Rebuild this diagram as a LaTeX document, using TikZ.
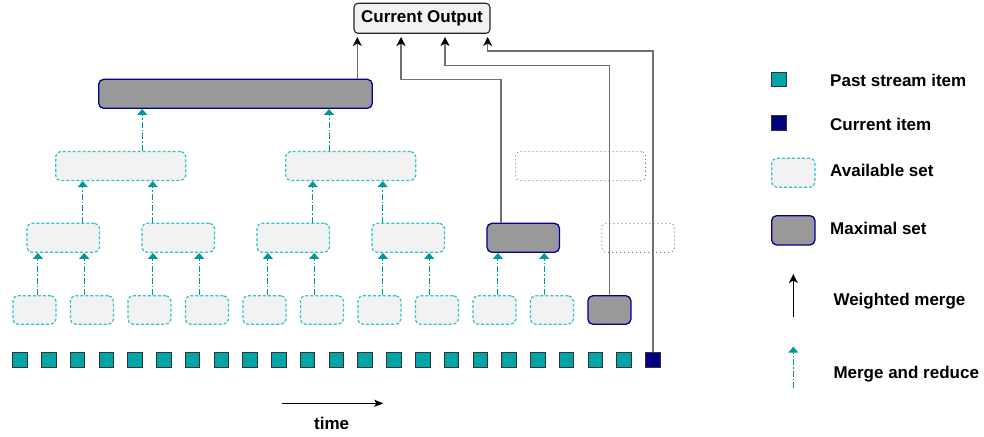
\documentclass[tikz,border=0pt]{standalone}
\usepackage{fontspec}
\setmainfont{Liberation Sans}
\usetikzlibrary{arrows.meta,calc}
\definecolor{tealfill}{HTML}{00A6A6}
\definecolor{tealline}{HTML}{009999}
\definecolor{availborder}{HTML}{33C4C4}
\definecolor{availfill}{HTML}{F2F2F2}
\definecolor{maxfill}{HTML}{999999}
\definecolor{maxborder}{HTML}{000099}
\definecolor{navyitem}{HTML}{000080}
\definecolor{wline}{HTML}{707070}
\definecolor{dotgray}{HTML}{808080}
\begin{document}
\begin{tikzpicture}[x=1pt,y=-1pt,
  every node/.style={font=\fontsize{17}{20}\selectfont\bfseries},
  availbox/.style={draw=availborder, fill=availfill, line width=1.2pt,
    dash pattern=on 3pt off 2pt, rounded corners=5pt, inner sep=0pt},
  maxbox/.style={draw=maxborder, fill=maxfill, line width=1.3pt,
    rounded corners=5pt, inner sep=0pt},
  emptybox/.style={draw=dotgray, line width=1pt, dash pattern=on 1pt off 3pt,
    rounded corners=4pt, inner sep=0pt},
  lvA/.style={minimum width=43pt, minimum height=28.5pt},
  lvB/.style={minimum width=72.5pt, minimum height=29pt},
  lvC/.style={minimum width=130pt, minimum height=29pt},
  itembox/.style={draw=black!80, line width=1pt, minimum size=14.5pt, inner sep=0pt},
  pastitem/.style={itembox, fill=tealfill},
  curitem/.style={itembox, fill=navyitem},
  mr/.style={draw=tealline, line width=1pt, dash pattern=on 6pt off 2pt on 1.5pt off 2pt,
    -{Triangle[length=6pt,width=10pt,fill=tealline,color=tealline]}},
  wm/.style={draw=wline, line width=1.2pt,
    -{Stealth[length=9pt,width=9pt,inset=2.5pt,color=black]}},
  legtext/.style={anchor=base west, inner sep=0pt}
]
\useasboundingbox (0,0) rectangle (984,436);

% stream items
\foreach \i in {0,...,21} {
  \node[pastitem] (s\i) at ({20+28.77*\i},360) {};
}
\node[curitem] (s22) at ({20+28.77*22},360) {};

% level 1
\foreach \i in {0,...,9} {
  \node[availbox, lvA] (a\i) at ({34.4+57.5*\i},310) {};
}
\node[maxbox, lvA] (a10) at ({34.4+57.5*10},310) {};

% level 2
\foreach \j in {0,...,3} {
  \node[availbox, lvB] (b\j) at ({63.2+115*\j},237.8) {};
}
\node[maxbox, lvB] (b4) at ({63.2+115*4},237.8) {};
\node[emptybox, lvB] (b5) at ({63.2+115*5},237.8) {};

% level 3
\node[availbox, lvC] (c0) at (120.7,166) {};
\node[availbox, lvC] (c1) at (350.7,166) {};
\node[emptybox, lvC] (c2) at (580.7,166) {};

% level 4
\node[maxbox, minimum width=273.6pt, minimum height=29pt] (d0) at (235.5,93.8) {};

% current output
\node[draw=black!85, fill=availfill, line width=1.1pt, rounded corners=4pt,
      minimum width=136pt, minimum height=30pt, inner sep=0pt] (out) at (422,18.3) {Current Output};

% merge and reduce arrows level 1 -> 2
\foreach \j in {0,...,4} {
  \pgfmathtruncatemacro{\ca}{2*\j}
  \pgfmathtruncatemacro{\cb}{2*\j+1}
  \path (b\j.south) ++(-25.3,0) coordinate (t1);
  \path (b\j.south) ++(21,0) coordinate (t2);
  \draw[mr] (t1 |- a\ca.north) -- (t1);
  \draw[mr] (t2 |- a\cb.north) -- (t2);
}
% level 2 -> 3
\foreach \k in {0,1} {
  \pgfmathtruncatemacro{\ca}{2*\k}
  \pgfmathtruncatemacro{\cb}{2*\k+1}
  \path (c\k.south) ++(-38,0) coordinate (t1);
  \path (c\k.south) ++(32,0) coordinate (t2);
  \draw[mr] (t1 |- b\ca.north) -- (t1);
  \draw[mr] (t2 |- b\cb.north) -- (t2);
}
% level 3 -> 4
\path (d0.south) ++(-93.3,0) coordinate (t1);
\path (d0.south) ++(93.5,0) coordinate (t2);
\draw[mr] (t1 |- c0.north) -- (t1);
\draw[mr] (t2 |- c1.north) -- (t2);

% weighted merge lines to output
\coordinate (o1) at (357.3,37);
\coordinate (o2) at (401,37);
\coordinate (o3) at (445,37);
\coordinate (o4) at (487.7,37);
\draw[wm] (o1 |- d0.north) -- (o1);
\draw[wm] ($(b4.north west)+(14.7,0)$) |- ($(o2)+(0,42.7)$) -- (o2);
\draw[wm] (a10.north) |- ($(o3)+(0,28.7)$) -- (o3);
\draw[wm] (s22.north) |- ($(o4)+(0,14)$) -- (o4);

% time arrow
\coordinate (tl) at (281.7,403.3);
\coordinate (tr) at (383.3,403.3);
\draw[line width=1.1pt, -{Stealth[length=9pt,width=7pt,inset=2pt]}] (tl) -- (tr);
\node[anchor=base, inner sep=0pt] (timelbl) at (331.7,429.3) {time};

% legend
\node[pastitem] (lg1) at (779,79.7) {};
\node[legtext] (lt1) at (830,86.7) {Past stream item};
\node[curitem] (lg2) at (779,123) {};
\node[legtext] (lt2) at (830,130) {Current item};
\node[availbox, minimum width=43.3pt, minimum height=29pt] (lg3) at (793.3,172.8) {};
\node[legtext] (lt3) at (830,176.7) {Available set};
\node[maxbox, minimum width=43.3pt, minimum height=29.3pt] (lg4) at (793.3,230.3) {};
\node[legtext] (lt4) at (830,234.3) {Maximal set};
\coordinate (lw1) at (793.3,316.7);
\coordinate (lw2) at (793.3,274);
\draw[line width=1.1pt, -{Stealth[length=9pt,width=9pt,inset=2.5pt]}] (lw1) -- (lw2);
\node[legtext] (lt5) at (833.3,305) {Weighted merge};
\coordinate (lm1) at (793.3,388);
\coordinate (lm2) at (793.3,346.7);
\draw[mr] (lm1) -- (lm2);
\node[legtext] (lt6) at (833.3,378.3) {Merge and reduce};
\end{tikzpicture}
\end{document}
